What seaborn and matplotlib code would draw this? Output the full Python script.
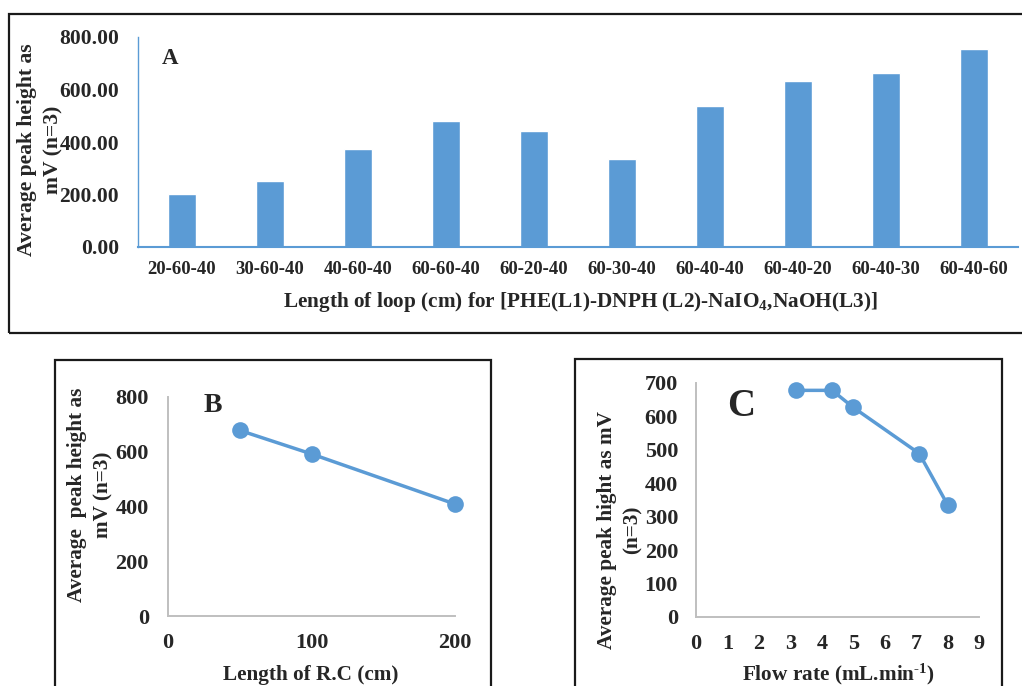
import matplotlib
matplotlib.use("Agg")
import matplotlib.pyplot as plt
import seaborn as sns
import pandas as pd
from matplotlib.patches import Rectangle

# ---- data ----
loop_labels = ["20-60-40", "30-60-40", "40-60-40", "60-60-40", "60-20-40",
               "60-30-40", "60-40-40", "60-40-20", "60-40-30", "60-40-60"]
loop_values = [200, 250, 373, 479, 440, 336, 536, 633, 663, 756]

rc_length = [50, 100, 200]
rc_values = [678, 592, 409]

flow_rate = [3.17, 4.33, 5.0, 7.1, 8.0]
flow_values = [678, 678, 627, 489, 336]

BLUE = "#5B9BD5"
GRAY = "#BFBFBF"

sns.set_style("white")
plt.rcParams['font.family'] = ['Liberation Serif', 'DejaVu Serif']
plt.rcParams['font.weight'] = 'bold'
plt.rcParams['mathtext.fontset'] = 'custom'
plt.rcParams['mathtext.rm'] = 'Liberation Serif:bold'
plt.rcParams['mathtext.it'] = 'Liberation Serif:bold'
plt.rcParams['mathtext.bf'] = 'Liberation Serif:bold'
plt.rcParams['mathtext.default'] = 'rm'

W, H = 1022, 686
fig = plt.figure(figsize=(W / 100, H / 100), dpi=100)


def ax_at(l, t, r, b):
    return fig.add_axes([l / W, 1 - b / H, (r - l) / W, (b - t) / H])


def box(l, t, r, b, lw=1.6):
    fig.patches.append(Rectangle((l / W, 1 - b / H), (r - l) / W, (b - t) / H,
                                 transform=fig.transFigure, fill=False,
                                 edgecolor="#1a1a1a", linewidth=lw, zorder=0))


def ftext(x, y, s, size, rot=0, **kw):
    fig.text(x / W, 1 - y / H, s, fontsize=size, fontweight='bold',
             rotation=rot, ha='center', va='center', **kw)


PX = 0.72  # points per pixel at 100 dpi

# boxes
box(9, 14, 1040, 333)
box(55, 360, 491, 720)
box(575, 359, 1002, 720)

# ---- panel A ----
axA = ax_at(138, 37, 1018, 247)
dfA = pd.DataFrame({"cfg": loop_labels, "val": loop_values})
sns.barplot(data=dfA, x="cfg", y="val", color=BLUE, width=0.32, saturation=1,
            ax=axA)
axA.set_xlim(-0.5, 9.5)
axA.set_ylim(0, 800)
axA.set_yticks([0, 200, 400, 600, 800])
axA.set_yticklabels([f"{v:.2f}" for v in [0, 200, 400, 600, 800]],
                    fontsize=15.5, fontweight='bold')
axA.set_xticks(range(len(loop_labels)))
axA.set_xticklabels(loop_labels, fontsize=13.5, fontweight='bold')
axA.tick_params(axis='y', length=0, pad=19 * PX)
axA.tick_params(axis='x', length=0, pad=10)
for s in ["top", "right"]:
    axA.spines[s].set_visible(False)
axA.spines["left"].set_color(BLUE)
axA.spines["left"].set_linewidth(1.0)
axA.spines["bottom"].set_color(BLUE)
axA.spines["bottom"].set_linewidth(1.5)
axA.set_xlabel("")
axA.set_ylabel("")
ftext(580, 302, "Length of loop (cm) for [PHE(L1)-DNPH (L2)-NaIO$_4$,NaOH(L3)]",
      15.3)
ftext(40, 150, "Average peak height as\nmV (n=3)", 15.6, rot=90,
      linespacing=1.45)
axA.text(0.027, 0.9, "A", transform=axA.transAxes, fontsize=16.5,
         fontweight='bold', ha='left', va='center')

# ---- panel B ----
axB = ax_at(168, 397, 455, 616)
sns.lineplot(x=rc_length, y=rc_values, ax=axB, color=BLUE, linewidth=2.5,
             marker='o', markersize=12, markeredgewidth=0)
for ln in axB.lines:
    ln.set_clip_on(False)
axB.set_xlim(0, 200)
axB.set_ylim(0, 800)
axB.set_xticks([0, 100, 200])
axB.set_yticks([0, 200, 400, 600, 800])
axB.tick_params(axis='both', length=0, labelsize=16)
axB.tick_params(axis='y', pad=19 * PX)
axB.tick_params(axis='x', pad=12)
for lab in axB.get_xticklabels() + axB.get_yticklabels():
    lab.set_fontweight('bold')
for s in ["top", "right"]:
    axB.spines[s].set_visible(False)
for s in ["left", "bottom"]:
    axB.spines[s].set_color(GRAY)
    axB.spines[s].set_linewidth(1.4)
ftext(311, 675, "Length of R.C (cm)", 15.3)
ftext(90, 495, "Average  peak height as\nmV (n=3)", 15.3, rot=90,
      linespacing=1.45)
axB.text(0.125, 0.96, "B", transform=axB.transAxes, fontsize=20,
         fontweight='bold', ha='left', va='center')

# ---- panel C ----
axC = ax_at(696, 383, 979, 617)
sns.lineplot(x=flow_rate, y=flow_values, ax=axC, color=BLUE, linewidth=2.5,
             marker='o', markersize=12, markeredgewidth=0)
for ln in axC.lines:
    ln.set_clip_on(False)
axC.set_xlim(0, 9)
axC.set_ylim(0, 700)
axC.set_xticks(range(10))
axC.set_yticks(range(0, 701, 100))
axC.tick_params(axis='both', length=0, labelsize=16)
axC.tick_params(axis='y', pad=18 * PX)
axC.tick_params(axis='x', pad=12)
for lab in axC.get_xticklabels() + axC.get_yticklabels():
    lab.set_fontweight('bold')
for s in ["top", "right"]:
    axC.spines[s].set_visible(False)
for s in ["left", "bottom"]:
    axC.spines[s].set_color(GRAY)
    axC.spines[s].set_linewidth(1.4)
ftext(838, 674, r"Flow rate (mL.min$^{\text{-1}}$)", 15.3)
ftext(620, 530, "Average peak hight as mV\n(n=3)", 15.3, rot=90,
      linespacing=1.4)
axC.text(0.11, 0.9, "C", transform=axC.transAxes, fontsize=28,
         fontweight='bold', ha='left', va='center')

fig.savefig("out.png", dpi=100)
